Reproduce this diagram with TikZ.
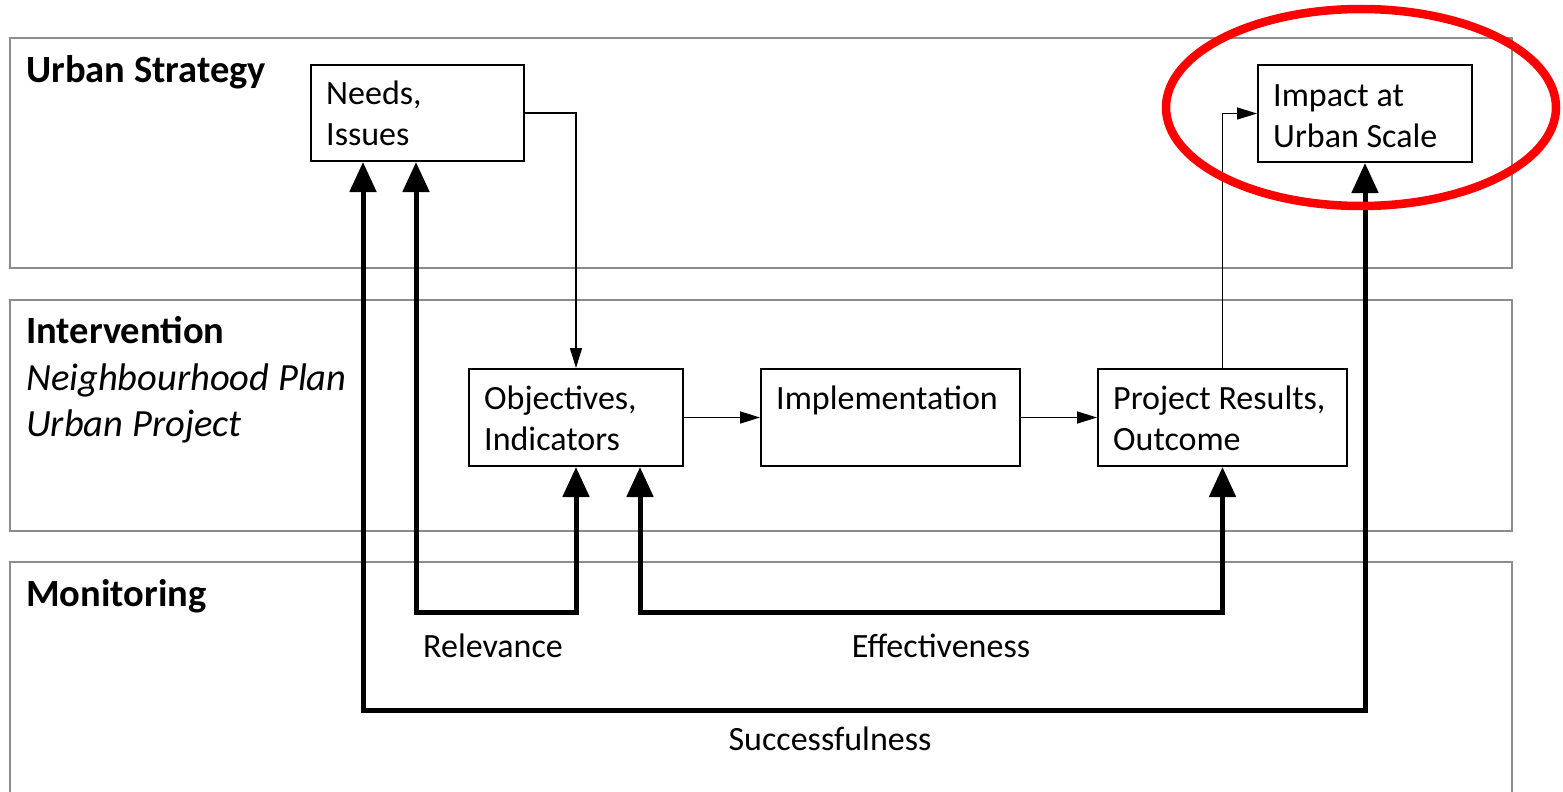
\documentclass[tikz,border=0pt]{standalone}
\usepackage{fontspec}
\setmainfont{Carlito}
\usetikzlibrary{arrows.meta}
\definecolor{bandgray}{RGB}{140,140,140}
\definecolor{ringred}{RGB}{255,0,0}
\begin{document}
\begin{tikzpicture}[x=1pt,y=-1pt,
  every node/.style={font=\fontsize{34}{41}\selectfont},
  band/.style={draw=bandgray,line width=2pt},
  box/.style={draw=black,line width=2pt,fill=white,anchor=north west,inner sep=0pt},
  txt/.style={anchor=base west,inner sep=0pt},
  ttl/.style={anchor=base west,inner sep=0pt,font=\fontsize{38.5}{46}\selectfont},
  lbl/.style={anchor=base,inner sep=0pt},
  thinarr/.style={draw=black,line width=1.6pt,-{Triangle[length=20pt,width=12pt]}},
  thickarr/.style={draw=black,line width=5pt,line join=miter,{Triangle[length=30pt,width=26pt]}-{Triangle[length=30pt,width=26pt]}}
]
\useasboundingbox (0,0) rectangle (1563,792);
\fill[white] (0,0) rectangle (1563,792);
% bands
\draw[band] (10,38) rectangle (1512,268);
\draw[band] (10,300) rectangle (1512,531);
\draw[band] (10,792) -- (10,562) -- (1512,562) -- (1512,792);
% band titles
\node[ttl] (t1) at (26,82) {\bfseries Urban Strategy};
\node[ttl] (t2) at (26,343) {\bfseries Intervention};
\node[ttl] (t3) at (26,390) {\itshape Neighbourhood Plan};
\node[ttl] (t4) at (26,436) {\itshape Urban Project};
\node[ttl] (t5) at (26,606) {\bfseries Monitoring};
% boxes
\node[box,minimum width=213pt,minimum height=96pt] (needs) at (310,64) {};
\node[box,minimum width=214pt,minimum height=97pt] (impact) at (1257,64) {};
\node[box,minimum width=214pt,minimum height=97pt] (obj) at (468,368) {};
\node[box,minimum width=259pt,minimum height=97pt] (impl) at (760,368) {};
\node[box,minimum width=249pt,minimum height=97pt] (res) at (1097,368) {};
% box texts
\node[txt] (n1) at (326,104) {Needs,};
\node[txt] (n2) at (326,145) {Issues};
\node[txt] (i1) at (1273,106) {Impact at};
\node[txt] (i2) at (1273,147) {Urban Scale};
\node[txt] (o1) at (484,409) {Objectives,};
\node[txt] (o2) at (484,450) {Indicators};
\node[txt] (m1) at (776,409) {Implementation};
\node[txt] (r1t) at (1113,409) {Project Results,};
\node[txt] (r2t) at (1113,450) {Outcome};
% thin connectors
\draw[thinarr] (needs.east) -| (obj.north);
\draw[thinarr] (obj.east) -- (impl.west);
\draw[thinarr] (impl.east) -- (res.west);
\draw[thinarr] (res.north) |- (impact.west);
% thick feedback loops
\coordinate (rc) at (416,612);
\coordinate (ec) at (640,612);
\coordinate (sc) at (363,710);
\draw[thickarr] (needs.south -| rc) -- (rc) -| (obj.south);
\draw[thickarr] (obj.south -| ec) -- (ec) -| (res.south);
\draw[thickarr] (needs.south -| sc) -- (sc) -| (impact.south);
% loop labels
\node[lbl] (relev) at (493,657) {Relevance};
\node[lbl] (effect) at (941,657) {Effectiveness};
\node[lbl] (succ) at (830,750) {Successfulness};
% red highlight
\draw[ringred,line width=8.5pt] (1361,107.5) ellipse [x radius=195, y radius=98.5];
\end{tikzpicture}
\end{document}
